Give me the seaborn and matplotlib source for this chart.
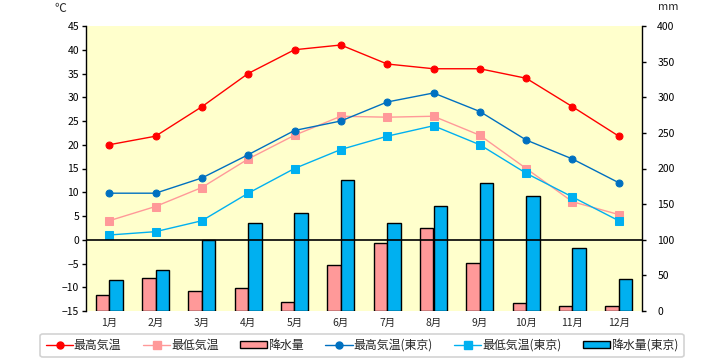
import numpy as np
import pandas as pd
import matplotlib
matplotlib.use('Agg')
import matplotlib.pyplot as plt
import seaborn as sns
from matplotlib.lines import Line2D
from matplotlib.patches import Patch

# ---- données ----
months = ['1月', '2月', '3月', '4月', '5月', '6月', '7月', '8月', '9月', '10月', '11月', '12月']
high_temp = [20, 21.8, 28, 35, 40, 41, 37, 36, 36, 34, 28, 21.8]
low_temp = [4, 7, 11, 17, 22, 26, 25.8, 26, 22, 15, 8, 5.3]
rain = [22, 46, 28, 32, 12, 65, 95, 117, 67, 11, 7, 7]
high_tokyo = [9.8, 9.8, 13, 17.9, 23, 25, 29, 30.9, 27, 21, 17, 12]
low_tokyo = [1, 1.7, 4, 9.8, 15, 19, 21.8, 24, 20, 14, 9, 4]
rain_tokyo = [44, 58, 100, 124, 137, 184, 124, 147, 179, 162, 88, 45]

RED = '#FF0000'
PINK = '#FF9999'
NAVY = '#0070C0'
CYAN = '#00B0F0'
YELLOW = '#FFFFCC'

sns.set_style('white')
plt.rcParams['font.family'] = ['Noto Sans CJK JP', 'DejaVu Sans']

fig = plt.figure(figsize=(7.2, 3.6), dpi=100)
ax_p = fig.add_axes([86 / 720, 1 - 311 / 360, 556 / 720, 285 / 360])
ax_t = ax_p.twinx()

# ---- barres de précipitations (axe droit) ----
df_rain = pd.DataFrame({
    'month': months * 2,
    'mm': rain + rain_tokyo,
    'series': ['降水量'] * 12 + ['降水量(東京)'] * 12,
})
sns.barplot(data=df_rain, x='month', y='mm', hue='series', palette=[PINK, CYAN],
            width=0.58, gap=0, edgecolor='black', linewidth=1, saturation=1,
            legend=False, ax=ax_p)

# ---- courbes de température (axe gauche) ----
df_temp = pd.DataFrame({'month': months, 'high': high_temp, 'low': low_temp,
                        'high_t': high_tokyo, 'low_t': low_tokyo})
line_styles = [
    ('high', RED, 'o'),
    ('low', PINK, 's'),
    ('high_t', NAVY, 'o'),
    ('low_t', CYAN, 's'),
]
for col, color, marker in line_styles:
    sns.lineplot(data=df_temp, x='month', y=col, color=color, linewidth=1,
                 marker=marker, markersize=5.5 if marker == 's' else 5,
                 markeredgecolor=color, sort=False, ax=ax_t)
ax_t.axhline(0, color='black', linewidth=1.2)

# empilement : les courbes au-dessus des barres
ax_t.set_zorder(ax_p.get_zorder() + 1)
ax_t.patch.set_visible(False)
ax_p.set_facecolor(YELLOW)

ax_p.set_xlim(-0.5, 11.5)
ax_p.set_ylim(0, 400)
ax_t.set_ylim(-15, 45)
ax_t.set_yticks(np.arange(-15, 46, 5))
ax_p.set_yticks(np.arange(0, 401, 50))

# axe des températures à gauche, précipitations à droite
ax_t.yaxis.tick_left()
ax_p.yaxis.tick_right()
for a in (ax_p, ax_t):
    a.set_xlabel('')
    a.set_ylabel('')
    for s in ('top', 'bottom'):
        a.spines[s].set_visible(False)
ax_p.spines['left'].set_visible(False)
ax_p.spines['right'].set_visible(False)
for s in ('left', 'right'):
    ax_t.spines[s].set_visible(True)
    ax_t.spines[s].set_color('black')
    ax_t.spines[s].set_linewidth(1)

ax_t.tick_params(axis='y', which='both', left=True, right=False, direction='out',
                 length=3, width=1, pad=2, labelsize=7.5, colors='black')
ax_p.tick_params(axis='y', which='both', left=False, right=True, direction='out',
                 length=3, width=1, pad=8, labelsize=7.5, colors='black')
ax_p.tick_params(axis='x', length=0, pad=5, labelsize=7.5)
ax_t.tick_params(axis='x', length=0, labelbottom=False)

fig.text(60 / 720, 1 - 8 / 360, '℃', fontsize=8.5, ha='center', va='center')
fig.text(668 / 720, 1 - 7 / 360, 'mm', fontsize=8, ha='center', va='center')

# ---- légende ----
handles = [
    Line2D([], [], color=RED, marker='o', markersize=5, lw=1),
    Line2D([], [], color=PINK, marker='s', markersize=5.5, lw=1),
    Patch(facecolor=PINK, edgecolor='black', linewidth=1),
    Line2D([], [], color=NAVY, marker='o', markersize=5, lw=1),
    Line2D([], [], color=CYAN, marker='s', markersize=5.5, lw=1),
    Patch(facecolor=CYAN, edgecolor='black', linewidth=1),
]
labels = ['最高気温', '最低気温', '降水量', '最高気温(東京)', '最低気温(東京)', '降水量(東京)']
leg = fig.legend(handles, labels, loc='center', bbox_to_anchor=(362 / 720, 1 - 345.5 / 360),
                 ncol=6, fontsize=8.6, frameon=True, fancybox=True, handlelength=2.3,
                 handleheight=0.55, handletextpad=0.05, columnspacing=1.8,
                 borderpad=0.45, borderaxespad=0)
leg.get_frame().set_edgecolor('#C8C8C8')
leg.get_frame().set_linewidth(1.2)

fig.savefig('out.png', dpi=100)
